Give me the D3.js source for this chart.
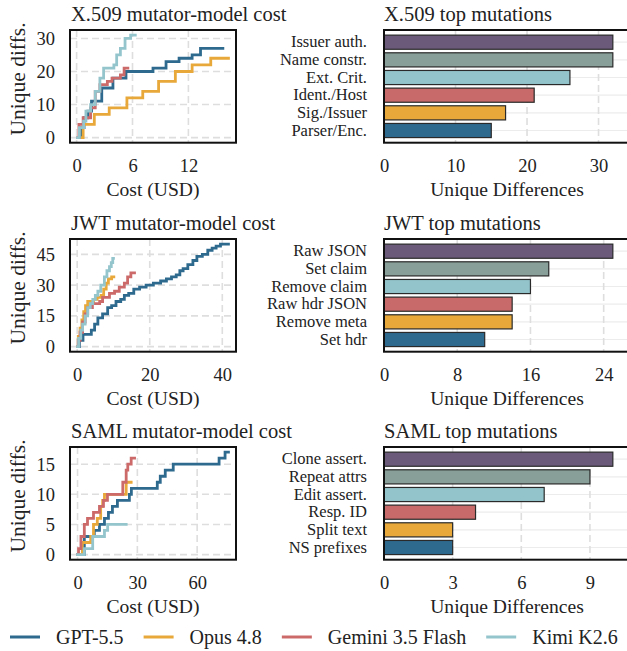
<!DOCTYPE html>
<html><head><meta charset="utf-8">
<script src="https://cdn.jsdelivr.net/npm/d3@7/dist/d3.min.js"></script>
<style>
html,body{margin:0;padding:0;background:#fff;}
svg{display:block;font-family:"Liberation Serif","Times New Roman",serif;}
</style></head><body>
<svg id="c" width="627" height="651"></svg>
<script>
// ---------- DATA ----------
const models = ["GPT-5.5", "Opus 4.8", "Gemini 3.5 Flash", "Kimi K2.6"];
const modelColors = ["#2d6a8e", "#e8a83a", "#cc6a6a", "#94c5cd"];

// cumulative unique differences vs. cost (USD), step curves
const x509Gpt    = [[0.3,0],[0.5,3],[0.8,6],[1.2,8],[1.6,11],[2.7,15],[3.9,18],[5.3,20],[8.2,21],[9.6,23],[11.0,24],[12.4,25],[13.3,27],[15.7,27]];
const x509Opus   = [[0.6,0],[0.7,4],[1.9,7],[3.5,9],[5.4,12],[7.1,14],[8.8,17],[10.6,20],[12.4,22],[14.4,24],[16.3,24]];
const x509Gemini = [[0.1,0],[0.25,4],[0.7,6],[1.5,9],[2.0,14],[2.5,16],[3.3,17],[3.8,18],[4.7,19],[5.1,21],[5.5,21]];
const x509Kimi   = [[0.1,0],[0.3,3],[0.75,5],[1.0,8],[1.5,10],[2.0,14],[2.5,18],[2.9,21],[4.0,22],[4.3,25],[4.7,27],[5.2,30],[5.8,31],[6.3,31]];

const jwtGpt    = [[0.3,0],[0.6,3],[1.6,6],[3.9,8],[4.8,11],[5.7,14],[7.0,16],[8.4,19],[9.5,20],[10.7,22],[12.0,23],[13.0,25],[14.2,26],[15.6,28],[17.2,29],[19.0,30],[21.0,31],[23.0,32],[24.6,33],[26.0,34],[27.3,35],[28.3,37],[29.2,38],[30.5,40],[31.9,42],[33.0,44],[34.5,45],[36.0,47],[37.2,48],[38.3,49],[39.5,50],[41.7,50]];
const jwtOpus   = [[0.1,0],[0.3,5],[0.8,9],[1.3,13],[1.8,17],[2.3,20],[2.9,22],[4.5,23],[5.5,24],[6.6,25],[7.3,28],[8.0,31],[8.6,33],[9.5,34],[10.1,34]];
const jwtGemini = [[0.1,0],[0.3,3],[0.8,7],[1.5,12],[2.2,16],[2.9,19],[4.2,21],[6.2,22],[7.0,24],[8.9,26],[10.3,27],[11.6,29],[13.0,31],[13.9,34],[14.8,36],[15.8,36]];
const jwtKimi   = [[0.1,0],[0.4,4],[1.0,8],[1.5,11],[2.2,15],[2.9,19],[3.6,21],[4.3,23],[5.0,25],[5.7,27],[6.5,30],[7.5,34],[8.2,37],[8.9,39],[9.4,41],[9.8,43],[10.0,43]];

const samlGpt    = [[0,0],[3.4,3],[8.4,4],[11.0,5],[13.5,6],[15.5,7],[17.5,8],[20.0,9],[26.0,10],[27.0,11],[39.5,11],[40.0,12],[41.5,13],[44.0,14],[48.0,15],[70.6,15],[71.0,16],[74.0,17],[75.7,17]];
const samlOpus   = [[0.7,0],[2.4,2],[6.6,3],[8.0,5],[9.9,6],[11.6,8],[12.6,9],[13.5,10],[23.5,10],[24.4,12],[26.9,12]];
const samlGemini = [[0,0],[0.5,1],[1.7,3],[3.4,5],[5.0,6],[8.0,7],[11.0,8],[13.0,9],[15.0,10],[21.9,10],[22.7,12],[24.4,14],[25.2,15],[26.9,16],[28.6,16]];
const samlKimi   = [[0,0],[3.4,1],[7.6,3],[12.6,3],[13.5,4],[15.1,5],[24.4,5]];

const x509XTicks = [0, 6, 12];   const x509YTicks = [0, 10, 20, 30];
const jwtXTicks  = [0, 20, 40];  const jwtYTicks  = [0, 15, 30, 45];
const samlXTicks = [0, 30, 60];  const samlYTicks = [0, 5, 10, 15];

// top mutations
const x509Mutations = ["Issuer auth.", "Name constr.", "Ext. Crit.", "Ident./Host", "Sig./Issuer", "Parser/Enc."];
const x509Counts    = [32, 32, 26, 21, 17, 15];
const jwtMutations  = ["Raw JSON", "Set claim", "Remove claim", "Raw hdr JSON", "Remove meta", "Set hdr"];
const jwtCounts     = [25, 18, 16, 14, 14, 11];
const samlMutations = ["Clone assert.", "Repeat attrs", "Edit assert.", "Resp. ID", "Split text", "NS prefixes"];
const samlCounts    = [10, 9, 7, 4, 3, 3];
const barColors = ["#6c5a7b", "#889f99", "#93c4cc", "#c96a6a", "#e8a83a", "#2e6a8e"];

const x509BarTicks = [0, 10, 20, 30];
const jwtBarTicks  = [0, 8, 16, 24];
const samlBarTicks = [0, 3, 6, 9];

const lineTitles = ["X.509 mutator-model cost", "JWT mutator-model cost", "SAML mutator-model cost"];
const barTitles  = ["X.509 top mutations", "JWT top mutations", "SAML top mutations"];

// ---------- LAYOUT ----------
const svg = d3.select("#c");
const rowTops = [30, 239, 447];
const plotH = 112.7;
const lineL = 70, lineR = 236, barL = 384, barR = 630;
const gridColor = "#dedede";
const tickFont = "18.5px", labelFont = "19.6px", titleFont = "20.5px";

function styleAxis(g) {
  g.select(".domain").remove();
  g.selectAll("text").attr("font-size", tickFont).attr("fill", "#222")
    .attr("font-family", '"Liberation Serif", serif');
}

function linePanel(row, title, series, xTicks, yTicks) {
  const top = rowTops[row], bottom = top + plotH;
  const all = series.flat();
  const xe = d3.extent(all, d => d[0]), ye = d3.extent(all, d => d[1]);
  const xp = (xe[1] - xe[0]) * 0.05, yp = (ye[1] - ye[0]) * 0.05;
  const x = d3.scaleLinear().domain([xe[0] - xp, xe[1] + xp]).range([lineL, lineR]);
  const y = d3.scaleLinear().domain([ye[0] - yp, ye[1] + yp]).range([bottom, top]);
  const g = svg.append("g");
  const cid = "clipL" + row;
  g.append("clipPath").attr("id", cid).append("rect")
    .attr("x", lineL).attr("y", top).attr("width", lineR - lineL).attr("height", plotH);
  // grid
  g.selectAll(".vg").data(xTicks).join("line")
    .attr("x1", d => x(d)).attr("x2", d => x(d)).attr("y1", top).attr("y2", bottom)
    .attr("stroke", gridColor).attr("stroke-width", 1.6).attr("stroke-dasharray", "7,4");
  g.selectAll(".hg").data(yTicks).join("line")
    .attr("x1", lineL).attr("x2", lineR).attr("y1", d => y(d)).attr("y2", d => y(d))
    .attr("stroke", gridColor).attr("stroke-width", 1.6).attr("stroke-dasharray", "7,4");
  // lines
  const line = d3.line().x(d => x(d[0])).y(d => y(d[1])).curve(d3.curveStepAfter);
  const lg = g.append("g").attr("clip-path", `url(#${cid})`);
  series.forEach((s, i) => {
    lg.append("path").attr("d", line(s)).attr("fill", "none")
      .attr("stroke", modelColors[i]).attr("stroke-width", 2.8)
      .attr("stroke-linejoin", "miter").attr("stroke-linecap", "square");
  });
  // frame
  g.append("rect").attr("x", lineL).attr("y", top).attr("width", lineR - lineL).attr("height", plotH)
    .attr("fill", "none").attr("stroke", "#111").attr("stroke-width", 2);
  // axes
  g.append("g").attr("transform", `translate(0,${bottom})`)
    .call(d3.axisBottom(x).tickValues(xTicks).tickSize(0).tickPadding(16)).call(styleAxis);
  g.append("g").attr("transform", `translate(${lineL},0)`)
    .call(d3.axisLeft(y).tickValues(yTicks).tickSize(0).tickPadding(15)).call(styleAxis);
  g.append("text").attr("x", (lineL + lineR) / 2).attr("y", top + 166)
    .attr("text-anchor", "middle").attr("font-size", labelFont).attr("fill", "#222").text("Cost (USD)");
  g.append("text").attr("transform", `translate(25,${top + 49}) rotate(-90)`)
    .attr("text-anchor", "middle").attr("font-size", "21.5px").attr("fill", "#222").text("Unique diffs.");
  g.append("text").attr("x", lineL + 1).attr("y", top - 9)
    .attr("font-size", titleFont).attr("fill", "#222").text(title);
}

function barPanel(row, title, cats, vals, ticks) {
  const top = rowTops[row], bottom = top + plotH;
  const x = d3.scaleLinear().domain([0, d3.max(vals) * 1.075]).range([barL, barR]);
  const y = d3.scaleBand().domain(cats).range([top, bottom]).paddingInner(0.2).paddingOuter(0.29);
  const g = svg.append("g");
  g.selectAll(".hg").data(cats).join("line")
    .attr("x1", barL).attr("x2", barR).attr("y1", d => y(d) + y.bandwidth() / 2).attr("y2", d => y(d) + y.bandwidth() / 2)
    .attr("stroke", "#ececec").attr("stroke-width", 1.2);
  g.selectAll(".vg").data(ticks.filter(t => t > 0)).join("line")
    .attr("x1", d => x(d)).attr("x2", d => x(d)).attr("y1", top).attr("y2", bottom)
    .attr("stroke", gridColor).attr("stroke-width", 1.6).attr("stroke-dasharray", "7,4");
  g.selectAll(".bar").data(cats).join("rect")
    .attr("x", x(0)).attr("y", d => y(d)).attr("height", y.bandwidth())
    .attr("width", (d, i) => x(vals[i]) - x(0))
    .attr("fill", (d, i) => barColors[i]).attr("stroke", "#2a2a2a").attr("stroke-width", 1.2);
  g.append("rect").attr("x", barL).attr("y", top).attr("width", barR - barL).attr("height", plotH)
    .attr("fill", "none").attr("stroke", "#111").attr("stroke-width", 2);
  g.append("g").attr("transform", `translate(0,${bottom})`)
    .call(d3.axisBottom(x).tickValues(ticks).tickSize(0).tickPadding(16)).call(styleAxis);
  const ya = g.append("g").attr("transform", `translate(${barL},0)`)
    .call(d3.axisLeft(y).tickSize(0).tickPadding(17)).call(styleAxis);
  ya.selectAll("text").attr("font-size", "16.5px");
  g.append("text").attr("x", (barL + barR) / 2).attr("y", top + 166)
    .attr("text-anchor", "middle").attr("font-size", labelFont).attr("fill", "#222").text("Unique Differences");
  g.append("text").attr("x", barL).attr("y", top - 9)
    .attr("font-size", titleFont).attr("fill", "#222").text(title);
}

linePanel(0, lineTitles[0], [x509Gpt, x509Opus, x509Gemini, x509Kimi], x509XTicks, x509YTicks);
linePanel(1, lineTitles[1], [jwtGpt, jwtOpus, jwtGemini, jwtKimi], jwtXTicks, jwtYTicks);
linePanel(2, lineTitles[2], [samlGpt, samlOpus, samlGemini, samlKimi], samlXTicks, samlYTicks);
barPanel(0, barTitles[0], x509Mutations, x509Counts, x509BarTicks);
barPanel(1, barTitles[1], jwtMutations, jwtCounts, jwtBarTicks);
barPanel(2, barTitles[2], samlMutations, samlCounts, samlBarTicks);

// legend
const leg = svg.append("g");
let lx = 10;
models.forEach((m, i) => {
  leg.append("line").attr("x1", lx).attr("x2", lx + 30).attr("y1", 637).attr("y2", 637)
    .attr("stroke", modelColors[i]).attr("stroke-width", 3);
  const t = leg.append("text").attr("x", lx + 46).attr("y", 644)
    .attr("font-size", "20px").attr("fill", "#222").text(m);
  lx = lx + 46 + t.node().getComputedTextLength() + 20;
});
</script>
</body></html>
